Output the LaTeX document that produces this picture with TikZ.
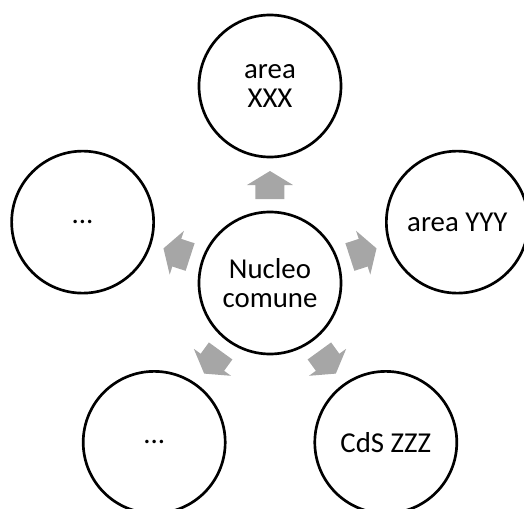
\documentclass[tikz,border=0pt]{standalone}
\usepackage{fontspec}
\setmainfont{Carlito}
\usetikzlibrary{calc}
\definecolor{arrowgray}{HTML}{A6A6A6}
\def\blockarrow(#1)(#2){\fill[arrowgray]
	($(#1)!2.1cm!(#2)!0.3625cm!90:(#2)$) --
	($(#1)!2.45cm!(#2)!0.3625cm!90:(#2)$) --
	($(#1)!2.45cm!(#2)!0.575cm!90:(#2)$) --
	($(#1)!2.8cm!(#2)$) --
	($(#1)!2.45cm!(#2)!0.575cm!-90:(#2)$) --
	($(#1)!2.45cm!(#2)!0.3625cm!-90:(#2)$) --
	($(#1)!2.1cm!(#2)!0.3625cm!-90:(#2)$) -- cycle;}
\tikzset{
	bubble/.style={draw=black, line width=1.9pt, fill=white, circle, minimum size=3.55cm, inner sep=0pt, align=center, font=\fontsize{20.5}{20.6}\selectfont}
}

\begin{document}
\begin{tikzpicture}
		%%%%% START %%%%%
		\useasboundingbox (-6.75, -5.65) rectangle (6.35, 7.075);
		
		\node[bubble] (nucleo) at (0, 0) {Nucleo\\comune};
		
		\node[bubble] (areaX) at (90:4.925) {area\\XXX};
		\node[bubble] (areaY) at (18:4.925) {area YYY};
		\node[bubble] (cdsZ) at (-54:4.925) {CdS ZZZ};
		\node[bubble] (dotsB) at (-126:4.925) {...};
		\node[bubble] (dotsA) at (162:4.925) {...};
		
		\foreach \target in {areaX, areaY, cdsZ, dotsB, dotsA}
			\blockarrow(nucleo)(\target);
		
		%%%%% END %%%%%
	\end{tikzpicture}
\end{document}
